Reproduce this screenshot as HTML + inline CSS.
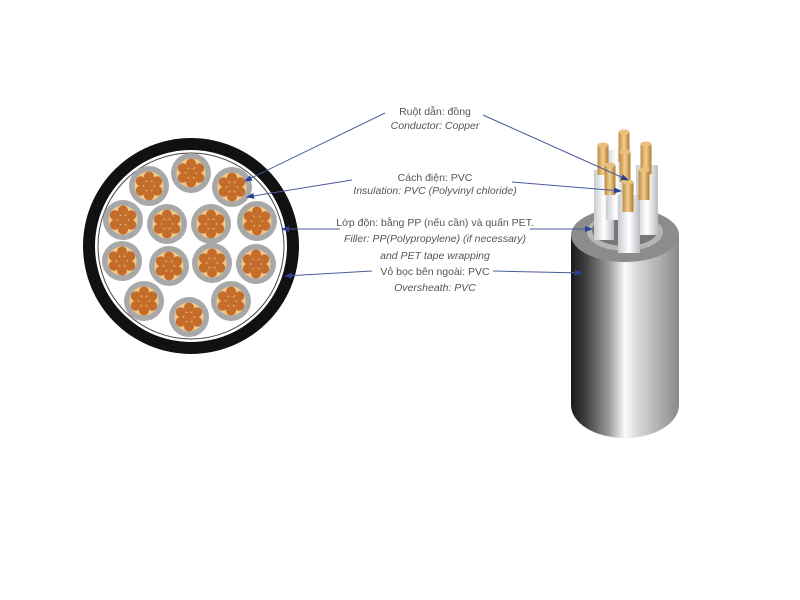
<!DOCTYPE html>
<html><head><meta charset="utf-8"><style>
html,body{margin:0;padding:0;background:#fff;width:800px;height:600px;overflow:hidden}
text{font-family:"Liberation Sans","DejaVu Sans",sans-serif;font-size:10.5px;fill:#555}
</style></head><body>
<svg width="800" height="600" viewBox="0 0 800 600" xmlns="http://www.w3.org/2000/svg">
<defs>
<linearGradient id="jk" x1="0" x2="1" y1="0" y2="0">
<stop offset="0" stop-color="#1a1a1a"/><stop offset="0.15" stop-color="#444"/><stop offset="0.35" stop-color="#9a9a9a"/><stop offset="0.5" stop-color="#fafafa"/><stop offset="0.62" stop-color="#d8d8d8"/><stop offset="1" stop-color="#8a8a8a"/></linearGradient>
<linearGradient id="ins" x1="0" x2="1"><stop offset="0" stop-color="#c8ccd0"/><stop offset="0.5" stop-color="#fff"/><stop offset="1" stop-color="#b8bcc0"/></linearGradient>
<linearGradient id="cw" x1="0" x2="1"><stop offset="0" stop-color="#c08a40"/><stop offset="0.5" stop-color="#f0d090"/><stop offset="1" stop-color="#b07a30"/></linearGradient>
<marker id="ar" markerWidth="8" markerHeight="6" refX="7" refY="3" orient="auto"><path d="M0,0 L8,3 L0,6 z" fill="#2b3f9a"/></marker>
<g id="core">
<circle r="20" fill="#a8a8a8"/>
<circle r="14.5" fill="#f3c98a"/>
<circle cx="0" cy="0" r="5" fill="#c46d2a"/>
<circle cx="0" cy="-9.5" r="5" fill="#c46d2a"/><circle cx="0" cy="9.5" r="5" fill="#c46d2a"/>
<circle cx="8.2" cy="-4.75" r="5" fill="#c46d2a"/><circle cx="-8.2" cy="-4.75" r="5" fill="#c46d2a"/>
<circle cx="8.2" cy="4.75" r="5" fill="#c46d2a"/><circle cx="-8.2" cy="4.75" r="5" fill="#c46d2a"/>
</g>
<g id="wire"><rect x="-5.5" y="0" width="11" height="30" fill="url(#cw)"/><ellipse cx="0" cy="0" rx="5.5" ry="2.5" fill="#e8c080"/></g>
</defs>
<circle cx="191" cy="246" r="108" fill="#111"/>
<circle cx="191" cy="246" r="96" fill="#fff"/>
<circle cx="191" cy="246" r="93" fill="none" stroke="#444" stroke-width="1"/>
<use href="#core" x="149" y="186"/><use href="#core" x="191" y="173"/><use href="#core" x="232" y="187"/>
<use href="#core" x="123" y="220"/><use href="#core" x="167" y="224"/><use href="#core" x="211" y="224"/><use href="#core" x="257" y="221"/>
<use href="#core" x="122" y="261"/><use href="#core" x="169" y="266"/><use href="#core" x="212" y="263"/><use href="#core" x="256" y="264"/>
<use href="#core" x="144" y="301"/><use href="#core" x="189" y="317"/><use href="#core" x="231" y="301"/>
<path d="M571,235 L571,405 A54,33 0 0 0 679,405 L679,235 Z" fill="url(#jk)"/>
<ellipse cx="625" cy="235" rx="54" ry="27" fill="#8c8c8c"/>
<ellipse cx="625" cy="232" rx="38" ry="19" fill="#b5b5b5"/>
<ellipse cx="625" cy="230" rx="33" ry="16" fill="#777"/>
<rect x="594" y="170" width="20" height="70" fill="url(#ins)"/>
<rect x="636" y="165" width="22" height="70" fill="url(#ins)"/>
<rect x="606" y="150" width="20" height="70" fill="url(#ins)"/>
<rect x="618" y="195" width="22" height="58" fill="url(#ins)"/>
<use href="#wire" x="603" y="145"/>
<use href="#wire" x="624" y="132"/>
<use href="#wire" x="646" y="144"/>
<use href="#wire" x="610" y="165"/>
<use href="#wire" x="625" y="152"/>
<use href="#wire" x="644" y="170"/>
<use href="#wire" x="628" y="182"/>
<g text-anchor="middle">
<text x="435" y="115">Ruột dẫn: đồng</text>
<text x="435" y="129" font-style="italic">Conductor: Copper</text>
<text x="435" y="181">Cách điện: PVC</text>
<text x="435" y="194" font-style="italic">Insulation: PVC (Polyvinyl chloride)</text>
<text x="435" y="226">Lớp độn: bằng PP (nếu cần) và quấn PET.</text>
<text x="435" y="242" font-style="italic">Filler: PP(Polypropylene) (if necessary)</text>
<text x="435" y="259" font-style="italic">and PET tape wrapping</text>
<text x="435" y="275">Vỏ bọc bên ngoài: PVC</text>
<text x="435" y="291" font-style="italic">Oversheath: PVC</text>
</g>
<g stroke="#4a5a9a" stroke-width="1" fill="none" marker-end="url(#ar)">
<line x1="385" y1="113" x2="245" y2="181"/>
<line x1="483" y1="115" x2="628" y2="180"/>
<line x1="352" y1="180" x2="247" y2="197"/>
<line x1="512" y1="182" x2="621" y2="191"/>
<line x1="340" y1="229" x2="282" y2="229"/>
<line x1="530" y1="229" x2="592" y2="229"/>
<line x1="372" y1="271" x2="285" y2="276"/>
<line x1="493" y1="271" x2="582" y2="273"/>
</g>
</svg>
</body></html>
